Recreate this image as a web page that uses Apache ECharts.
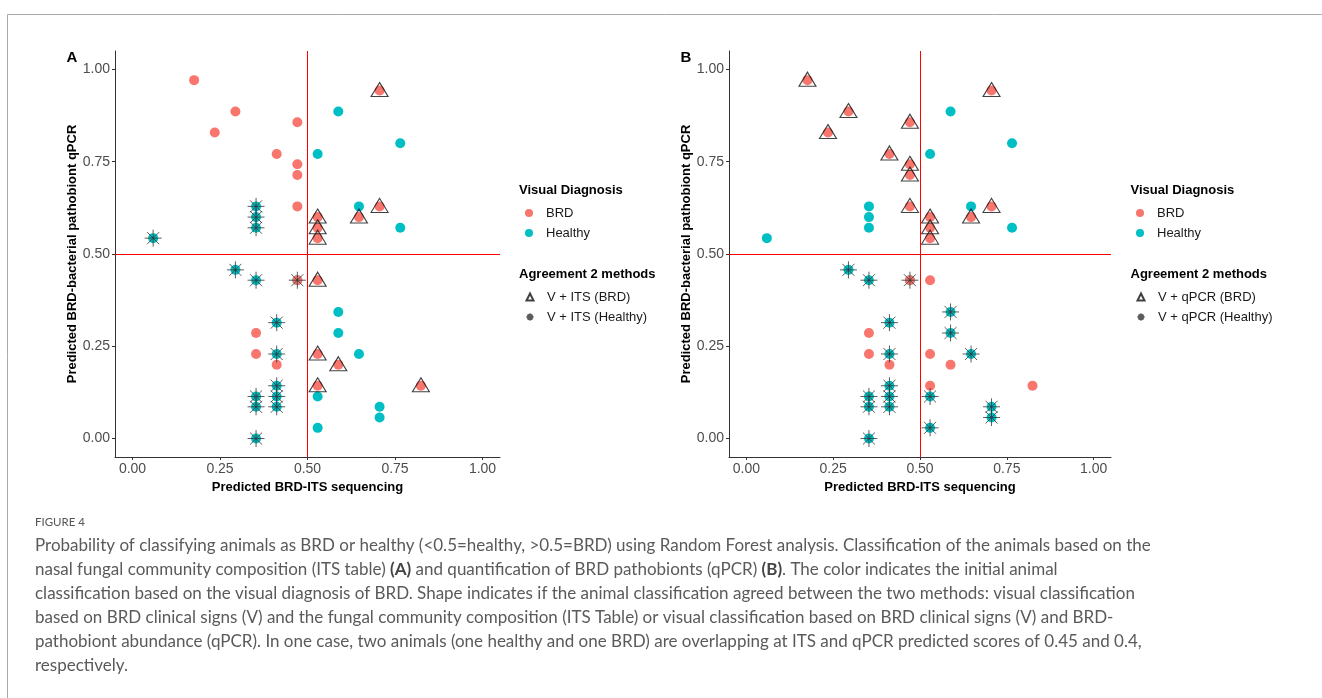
<!DOCTYPE html>
<html><head><meta charset="utf-8">
<script src="https://cdn.jsdelivr.net/npm/echarts@6/dist/echarts.min.js"></script>
<style>html,body{margin:0;padding:0;background:#fff}#c{width:1322px;height:698px}</style>
</head><body><div id="c"></div>
<script>
// ---- data ----
const brdITS  = [0.176,0.294,0.235,0.471,0.412,0.471,0.471,0.471,0.529,0.529,0.529,0.706,0.706,0.647,0.471,0.529,0.353,0.353,0.412,0.529,0.529,0.588,0.824];
const brdQPCR = [0.971,0.886,0.829,0.857,0.771,0.743,0.714,0.629,0.600,0.571,0.543,0.943,0.629,0.600,0.429,0.429,0.286,0.229,0.200,0.229,0.143,0.200,0.143];
const healthyITS  = [0.529,0.588,0.765,0.647,0.765,0.059,0.353,0.353,0.353,0.294,0.353,0.471,0.412,0.412,0.353,0.353,0.353,0.412,0.412,0.412,0.588,0.588,0.647,0.529,0.529,0.706,0.706];
const healthyQPCR = [0.771,0.886,0.800,0.629,0.571,0.543,0.629,0.600,0.571,0.457,0.429,0.429,0.314,0.229,0.114,0.086,0.000,0.143,0.114,0.086,0.343,0.286,0.229,0.114,0.029,0.086,0.057];
const threshold = 0.5;
const tickValues = [0, 0.25, 0.5, 0.75, 1];
const panelLabels = ['A', 'B'];
const xTitle = 'Predicted BRD-ITS sequencing';
const yTitle = 'Predicted BRD-bacterial pathobiont qPCR';
const diagnosisNames = ['BRD', 'Healthy'];
const legendTitles = ['Visual Diagnosis', 'Agreement 2 methods'];
const agreementNames = [['V + ITS (BRD)', 'V + ITS (Healthy)'], ['V + qPCR (BRD)', 'V + qPCR (Healthy)']];
const figureLabel = 'FIGURE 4';
const captionLines = [
  'Probability of classifying animals as BRD or healthy (<0.5=healthy, >0.5=BRD) using Random Forest analysis. Classification of the animals based on the',
  'nasal fungal community composition (ITS table) {b|(A)} and quantification of BRD pathobionts (qPCR) {b|(B)}. The color indicates the initial animal',
  'classification based on the visual diagnosis of BRD. Shape indicates if the animal classification agreed between the two methods: visual classification',
  'based on BRD clinical signs (V) and the fungal community composition (ITS Table) or visual classification based on BRD clinical signs (V) and BRD-',
  'pathobiont abundance (qPCR). In one case, two animals (one healthy and one BRD) are overlapping at ITS and qPCR predicted scores of 0.45 and 0.4,',
  'respectively.'
];

// ---- styling ----
const RED = '#F8766D', TEAL = '#00BFC4';
const STAR = 'path://M0,8L16,8M8,0L8,16M2.34,2.34L13.66,13.66M2.34,13.66L13.66,2.34';
const FONT = 'Liberation Sans';
const grids = [
  {left: 115, top: 51, width: 385, height: 406},
  {left: 729, top: 51, width: 382, height: 406}
];
const legendX = [525, 1136];
const titleX = [519, 1130.5];
const panelLabelX = [72, 686];

function pts(xs, ys, keep) {
  const out = [];
  for (let i = 0; i < xs.length; i++) if (!keep || keep(xs[i], ys[i])) out.push([xs[i], ys[i]]);
  return out;
}
function axisCommon(gi, name, gap) {
  return {type: 'value', gridIndex: gi, min: -0.05, max: 1.05,
    name: name, nameLocation: 'middle', nameGap: gap,
    nameTextStyle: {fontFamily: FONT, fontWeight: 'bold', fontSize: 13, color: '#000'},
    axisLine: {show: true, onZero: false, lineStyle: {color: '#333', width: 1}},
    axisTick: {show: true, length: 3, customValues: tickValues, lineStyle: {color: '#333'}},
    axisLabel: {customValues: tickValues, formatter: v => v.toFixed(2), margin: 5, color: '#4d4d4d', fontSize: 14, fontFamily: FONT},
    splitLine: {show: false}};
}

const series = [];
[0, 1].forEach(gi => {
  series.push({name: 'Healthy', type: 'scatter', xAxisIndex: gi, yAxisIndex: gi, symbol: 'circle', symbolSize: 10,
    itemStyle: {color: TEAL, opacity: 1}, data: pts(healthyITS, healthyQPCR), z: 2,
    markLine: {silent: true, symbol: 'none', label: {show: false}, lineStyle: {color: '#FF0000', width: 1, type: 'solid'},
      data: [{xAxis: threshold}, {yAxis: threshold}]}});
  series.push({name: 'BRD', type: 'scatter', xAxisIndex: gi, yAxisIndex: gi, symbol: 'circle', symbolSize: 10,
    itemStyle: {color: RED, opacity: 1}, data: pts(brdITS, brdQPCR), z: 3});
  const brdAgree = gi === 0 ? (x, y) => x > threshold : (x, y) => y > threshold;
  const hAgree = gi === 0 ? (x, y) => x < threshold : (x, y) => y < threshold;
  series.push({name: agreementNames[gi][0], type: 'scatter', xAxisIndex: gi, yAxisIndex: gi, symbol: 'triangle',
    symbolSize: [17, 14], symbolOffset: [0, -1],
    itemStyle: {color: 'rgba(0,0,0,0)', borderColor: '#111', borderWidth: 1.1}, data: pts(brdITS, brdQPCR, brdAgree), z: 4});
  series.push({name: agreementNames[gi][1], type: 'scatter', xAxisIndex: gi, yAxisIndex: gi, symbol: STAR,
    symbolSize: 17,
    itemStyle: {color: 'rgba(0,0,0,0)', borderColor: '#333', borderWidth: 1}, data: pts(healthyITS, healthyQPCR, hAgree), z: 4});
});

const legendText = {fontFamily: FONT, fontSize: 13, color: '#1a1a1a', lineHeight: 14, padding: [0, 0, 0, 8]};
const legends = [];
[0, 1].forEach(gi => {
  legends.push({orient: 'vertical', left: legendX[gi], top: 206, padding: 0, itemWidth: 8, itemHeight: 8, itemGap: 6,
    selectedMode: false, textStyle: legendText,
    data: diagnosisNames.map(n => ({name: n, icon: 'circle'}))});
  legends.push({orient: 'vertical', left: legendX[gi] + 0.5, top: 290, padding: 0, itemWidth: 7, itemHeight: 7, itemGap: 6,
    selectedMode: false, textStyle: Object.assign({}, legendText, {padding: [0, 0, 0, 8.5]}),
    data: [{name: agreementNames[gi][0], icon: 'triangle'}, {name: agreementNames[gi][1], icon: STAR}]});
});

const graphic = [
  {type: 'line', shape: {x1: 7.5, y1: 14.5, x2: 1322, y2: 14.5}, style: {stroke: '#aaa', lineWidth: 1}},
  {type: 'line', shape: {x1: 7.5, y1: 14.5, x2: 7.5, y2: 698}, style: {stroke: '#aaa', lineWidth: 1}}
];
[0, 1].forEach(gi => {
  graphic.push({type: 'text', x: panelLabelX[gi], y: 58, style: {text: panelLabels[gi], fontFamily: FONT, fontWeight: 'bold', fontSize: 15, fill: '#000', align: 'center', verticalAlign: 'middle'}});
  graphic.push({type: 'text', x: titleX[gi], y: 190, style: {text: legendTitles[0], fontFamily: FONT, fontWeight: 'bold', fontSize: 13, fill: '#000', verticalAlign: 'middle'}});
  graphic.push({type: 'text', x: titleX[gi], y: 274, style: {text: legendTitles[1], fontFamily: FONT, fontWeight: 'bold', fontSize: 13, fill: '#000', verticalAlign: 'middle'}});
});
graphic.push({type: 'text', x: 35, y: 522, style: {text: figureLabel, fontFamily: 'Lato', fontSize: 11.5, fill: '#555', verticalAlign: 'middle'}});
captionLines.forEach((line, i) => {
  graphic.push({type: 'text', x: 35, y: 546 + i * 24, style: {text: line, fontFamily: 'Lato', fontSize: 17, fill: '#5a5a5a', verticalAlign: 'middle',
    rich: {b: {fontFamily: 'Lato', fontSize: 17, fontWeight: 'bold', fill: '#444'}}}});
});

const chart = echarts.init(document.getElementById('c'), null, {renderer: 'canvas'});
chart.setOption({
  animation: false,
  backgroundColor: '#fff',
  grid: grids,
  xAxis: [axisCommon(0, xTitle, 21), axisCommon(1, xTitle, 21)],
  yAxis: [axisCommon(0, yTitle, 34), axisCommon(1, yTitle, 34)],
  legend: legends,
  series: series,
  graphic: graphic
});
</script></body></html>
